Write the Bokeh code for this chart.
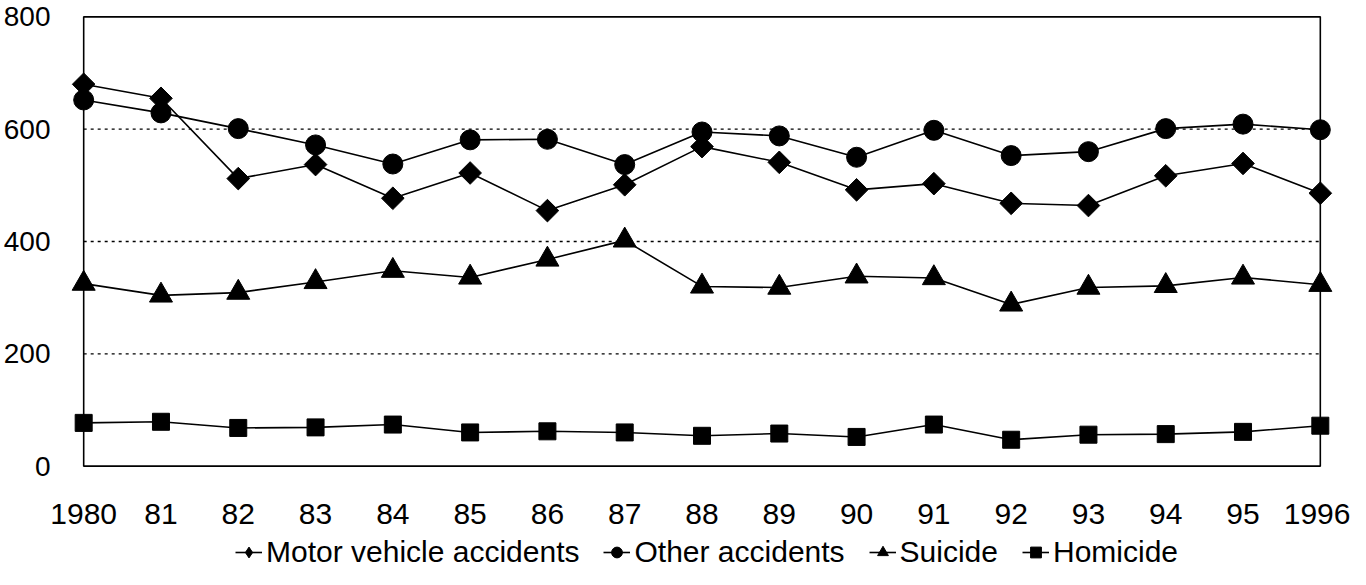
from bokeh.plotting import figure
from bokeh.models import Range1d, FixedTicker, BoxAnnotation, Legend, LegendItem
from bokeh.layouts import column
from bokeh.embed import file_html
from bokeh.resources import INLINE
import math

years = list(range(1980, 1997))
year_labels = ["1980", "81", "82", "83", "84", "85", "86", "87", "88",
               "89", "90", "91", "92", "93", "94", "95", "1996"]
motor_vehicle = [680, 655, 512, 537, 477, 522, 455, 501, 569, 541, 492, 503, 468, 464, 517, 539, 486]
other_accidents = [652, 629, 601, 572, 538, 581, 582, 537, 595, 588, 550, 598, 553, 560, 601, 609, 599]
suicide = [325, 304, 309, 328, 348, 336, 368, 402, 320, 318, 338, 335, 288, 318, 321, 336, 323]
homicide = [77, 79, 68, 69, 74, 60, 62, 60, 54, 58, 52, 74, 47, 56, 57, 61, 72]
series_names = ["Motor vehicle accidents", "Other accidents", "Suicide", "Homicide"]
y_ticks = [0, 200, 400, 600, 800]
grid_levels = [200, 400, 600]

FONT = "Liberation Sans"

p = figure(width=1350, height=533,
           x_range=Range1d(years[0] - 0.3, years[-1] + 0.3),
           y_range=Range1d(y_ticks[0] - 6, y_ticks[-1] + 6),
           output_backend="svg", toolbar_location=None,
           min_border_top=13, min_border_right=7, min_border_left=54,
           min_border_bottom=64)
p.outline_line_color = None
p.xgrid.visible = False
p.ygrid.visible = False
p.background_fill_color = "white"
p.border_fill_color = "white"

# dotted horizontal gridlines inside the box
p.multi_line(xs=[[years[0], years[-1]] for _ in grid_levels],
             ys=[[g, g] for g in grid_levels],
             line_color="black", line_width=1.3, line_dash="3 4")

box = BoxAnnotation(left=years[0], right=years[-1], bottom=y_ticks[0], top=y_ticks[-1],
                    fill_alpha=0, fill_color=None, line_color="black",
                    line_alpha=1.0, line_width=1.6)
p.add_layout(box)

styles = [
    dict(marker="square", size=16, angle=math.pi / 4),
    dict(marker="circle", size=20, angle=0),
    dict(marker="triangle", size=23, angle=0),
    dict(marker="square", size=17, angle=0),
]
legend_styles = [
    dict(marker="diamond", size=24),
    dict(marker="circle", size=17),
    dict(marker="triangle", size=20),
    dict(marker="square", size=14),
]
data = [motor_vehicle, other_accidents, suicide, homicide]
for vals, st in zip(data, styles):
    p.line(years, vals, line_color="black", line_width=1.6)
    p.scatter(years, vals, marker=st["marker"], size=st["size"], angle=st["angle"],
              fill_color="black", line_color="black")

p.xaxis.ticker = FixedTicker(ticks=years)
p.xaxis.major_label_overrides = {y: lab for y, lab in zip(years, year_labels)}
p.xaxis.axis_line_color = None
p.xaxis.major_tick_line_color = None
p.xaxis.minor_tick_line_color = None
p.xaxis.major_label_standoff = 28
p.xaxis.major_label_text_font = FONT
p.xaxis.major_label_text_font_size = "30px"
p.xaxis.major_label_text_color = "black"

p.yaxis.ticker = FixedTicker(ticks=y_ticks)
p.yaxis.axis_line_color = None
p.yaxis.major_tick_line_color = None
p.yaxis.minor_tick_line_color = None
p.yaxis.major_label_standoff = 4
p.yaxis.major_label_text_font = FONT
p.yaxis.major_label_text_font_size = "28px"
p.yaxis.major_label_text_color = "black"

# legend strip below the chart
lg = figure(width=1350, height=36, x_range=Range1d(0, 1), y_range=Range1d(0, 1),
            output_backend="svg", toolbar_location=None,
            min_border=0, min_border_left=0, min_border_right=0,
            min_border_top=0, min_border_bottom=0)
lg.axis.visible = False
lg.grid.visible = False
lg.outline_line_color = None
lg.background_fill_color = "white"
lg.border_fill_color = "white"
items = []
for name, vals, st in zip(series_names, data, legend_styles):
    # keyed to the series, placed outside the strip's visible range
    rl = lg.line(years, vals, line_color="black", line_width=1.6)
    rm = lg.scatter(years, vals, marker=st["marker"], size=st["size"],
                    fill_color="black", line_color="black")
    items.append(LegendItem(label=name, renderers=[rl, rm]))

legend = Legend(items=items, orientation="horizontal", location=(175, 0),
                label_text_font=FONT, label_text_font_size="30px",
                label_text_color="black",
                glyph_width=27, glyph_height=30, spacing=24, padding=0, margin=0,
                label_standoff=4, border_line_color=None, background_fill_alpha=0)
lg.add_layout(legend)

layout = column(p, lg, spacing=0)
open("out.html", "w").write(file_html(layout, INLINE))
